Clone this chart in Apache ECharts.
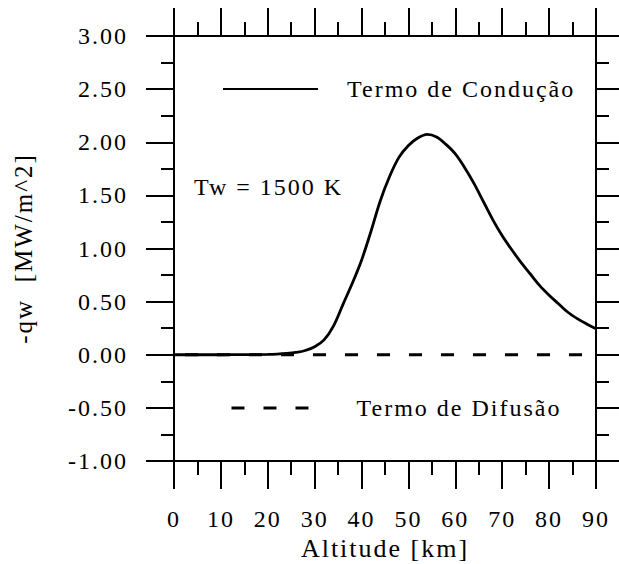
<!DOCTYPE html>
<html>
<head>
<meta charset="utf-8">
<script src="https://cdn.jsdelivr.net/npm/echarts@6/dist/echarts.min.js"></script>
<style>
  html, body { margin: 0; padding: 0; background: #fff; }
  #chart { width: 619px; height: 564px; }
  #chart text { letter-spacing: 2px; }
</style>
</head>
<body>
<div id="chart"></div>
<script>
// Altitude grid (km)
const altitudes = [0, 5, 10, 15, 20, 22, 24, 26, 28, 30, 32, 34, 36, 38, 40, 42, 44, 46, 48, 50,
                   52, 54, 56, 58, 60, 62, 64, 66, 68, 70, 72, 74, 76, 78, 80, 82, 84, 86, 88, 90];
// Conduction term of -qw (MW/m^2)
const conduction = [0, 0, 0, 0.001, 0.003, 0.006, 0.012, 0.022, 0.04, 0.075, 0.14, 0.27, 0.47, 0.67, 0.89, 1.16, 1.45, 1.68, 1.86, 1.97,
                    2.04, 2.075, 2.05, 1.98, 1.89, 1.76, 1.61, 1.44, 1.27, 1.12, 0.99, 0.87, 0.76, 0.65, 0.56, 0.48, 0.40, 0.34, 0.29, 0.245];
// Diffusion term of -qw (MW/m^2)
const diffusion = [0, 0, 0, 0, 0, 0, 0, 0, 0, 0, 0, 0, 0, 0, 0, 0, 0, 0, 0, 0,
                   0, 0, 0, 0, 0, 0, 0, 0, 0, 0, 0, 0, 0, 0, 0, 0, 0, 0, 0, 0];
const seriesNames = ['Termo de Condução', 'Termo de Difusão'];
const xTitle = 'Altitude [km]';
const yTitle = '-qw  [MW/m^2]';
const note = 'Tw = 1500 K';

const FONT = 'Liberation Serif';
const INK = '#000';

const tickStyle = { color: INK, width: 2 };

function makeX(position, showLabels) {
  return {
    type: 'value', position: position, min: 0, max: 90, interval: 10,
    axisLine: { show: true, onZero: false, lineStyle: tickStyle },
    axisTick: { show: true, inside: false, length: 28, lineStyle: tickStyle },
    minorTick: { show: true, splitNumber: 2, length: 14, lineStyle: tickStyle },
    splitLine: { show: false }, minorSplitLine: { show: false },
    axisLabel: { show: showLabels, margin: 46, fontSize: 24, color: INK, fontFamily: FONT },
    name: showLabels ? xTitle : '',
    nameLocation: 'middle', nameGap: 67,
    nameTextStyle: { fontSize: 26, color: INK, fontFamily: FONT }
  };
}
function makeY(position, showLabels) {
  return {
    type: 'value', position: position, min: -1, max: 3, interval: 0.5,
    axisLine: { show: true, onZero: false, lineStyle: tickStyle },
    axisTick: { show: true, inside: false, length: 28, lineStyle: tickStyle },
    minorTick: { show: true, splitNumber: 2, length: 13, lineStyle: tickStyle },
    splitLine: { show: false }, minorSplitLine: { show: false },
    axisLabel: { show: showLabels, margin: 46, fontSize: 24, color: INK, fontFamily: FONT,
                 formatter: v => v.toFixed(2) },
    name: showLabels ? yTitle : '',
    nameLocation: 'middle', nameGap: 138, nameRotate: 90,
    nameTextStyle: { fontSize: 25, color: INK, fontFamily: FONT }
  };
}

const chart = echarts.init(document.getElementById('chart'), null, { renderer: 'svg' });
chart.setOption({
  animation: false,
  backgroundColor: '#fff',
  grid: { left: 174, top: 36, width: 422, height: 425, containLabel: false, outerBoundsMode: 'none' },
  title: {
    text: note, left: 194, top: 175, padding: 0,
    textStyle: { fontSize: 24, fontWeight: 'normal', color: INK, fontFamily: FONT }
  },
  legend: [
    {
      data: [seriesNames[0]], left: 222, top: 77, padding: 0,
      itemWidth: 95, itemHeight: 24, selectedMode: false,
      itemStyle: { opacity: 0 },
      textStyle: { fontSize: 24, color: INK, fontFamily: FONT, padding: [0, 0, 0, 24] }
    },
    {
      data: [seriesNames[1]], left: 230, top: 396, padding: 0,
      itemWidth: 77, itemHeight: 24, selectedMode: false,
      itemStyle: { opacity: 0 },
      lineStyle: { type: [13, 19], dashOffset: 0, width: 3, color: INK },
      textStyle: { fontSize: 24, color: INK, fontFamily: FONT, padding: [0, 0, 0, 43] }
    }
  ],
  xAxis: [makeX('bottom', true), makeX('top', false)],
  yAxis: [makeY('left', true), makeY('right', false)],
  series: [
    {
      name: seriesNames[1], type: 'line', xAxisIndex: 0, yAxisIndex: 0,
      data: altitudes.map((a, i) => [a, diffusion[i]]),
      symbol: 'none', z: 2,
      lineStyle: { color: INK, width: 3, type: [13, 19], dashOffset: 21 },
      itemStyle: { color: INK }
    },
    {
      name: seriesNames[0], type: 'line', xAxisIndex: 0, yAxisIndex: 0,
      data: altitudes.map((a, i) => [a, conduction[i]]),
      symbol: 'none', smooth: 0.35, z: 3,
      lineStyle: { color: INK, width: 2.8, type: 'solid' },
      itemStyle: { color: INK }
    }
  ]
});
</script>
</body>
</html>
